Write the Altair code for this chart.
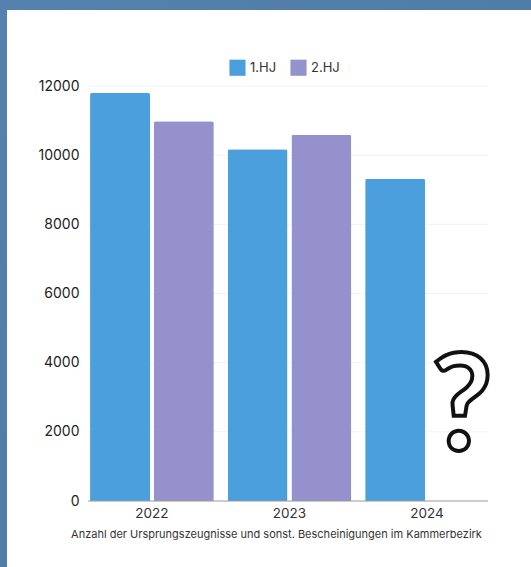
import altair as alt
import pandas as pd

years = ["2022", "2022", "2023", "2023", "2024"]
halves = ["1.HJ", "2.HJ", "1.HJ", "2.HJ", "1.HJ"]
counts = [11800, 10980, 10170, 10590, 9320]
tick_values = [0, 2000, 4000, 6000, 8000, 10000, 12000]
year_order = ["2022", "2023", "2024"]
half_order = ["1.HJ", "2.HJ"]
half_colors = ["#4a9fdc", "#9491cc"]
caption = "Anzahl der Ursprungszeugnisse und sonst. Bescheinigungen im Kammerbezirk"

FONT = "Inter"
PAD_LEFT, PAD_TOP, PLOT_W, PLOT_H = 88, 86, 400, 415

df = pd.DataFrame({"year": years, "half": halves, "count": counts})

y_scale = alt.Scale(domain=[0, 12000], nice=False)
y_axis = alt.Axis(
    title=None, values=tick_values, format="d", labelFont=FONT, labelFontSize=14,
    labelColor="#222222", labelPadding=9, ticks=False, domain=False,
    grid=False, zindex=1,
)

# Blue page backdrop and the white card the chart sits on
backdrop = alt.Chart(pd.DataFrame({"k": [0]})).mark_rect(
    color=alt.LinearGradient(
        gradient="linear", x1=0, y1=0, x2=1, y2=1,
        stops=[alt.GradientStop(offset=0, color="#5481ad"),
               alt.GradientStop(offset=1, color="#4f77a3")],
    )
).encode(
    x=alt.value(-PAD_LEFT), x2=alt.value(531 - PAD_LEFT),
    y=alt.value(-PAD_TOP), y2=alt.value(567 - PAD_TOP),
)
card = alt.Chart(pd.DataFrame({"k": [0]})).mark_rect(color="#ffffff").encode(
    x=alt.value(7 - PAD_LEFT), x2=alt.value(531 - PAD_LEFT),
    y=alt.value(10 - PAD_TOP), y2=alt.value(567 - PAD_TOP),
)

# Faint horizontal guides, kept underneath the bars
grid = alt.Chart(pd.DataFrame({"tick": tick_values[1:]})).mark_rule(
    color="#f2f2f2", strokeWidth=1
).encode(y=alt.Y("tick:Q", scale=y_scale, axis=y_axis))

bars = alt.Chart(df).mark_bar(cornerRadiusTopLeft=2, cornerRadiusTopRight=2).encode(
    x=alt.X(
        "year:N", sort=year_order,
        scale=alt.Scale(domain=year_order, range=[0, PLOT_W + 3],
                        paddingInner=0.1, paddingOuter=0.015),
        axis=alt.Axis(
            title=caption, titleFont=FONT, titleFontSize=11, titleFontWeight="normal",
            titleColor="#333333", titlePadding=9, titleX=188, titleAlign="center",
            labelFont=FONT, labelFontSize=13.5, labelColor="#333333", labelAngle=0,
            labelPadding=5, ticks=False, domain=False, grid=False, zindex=1,
        ),
    ),
    xOffset=alt.XOffset("half:N", sort=half_order,
                        scale=alt.Scale(domain=half_order, paddingInner=0.06, paddingOuter=0)),
    y=alt.Y("count:Q", scale=y_scale, axis=y_axis),
    color=alt.Color(
        "half:N", sort=half_order,
        scale=alt.Scale(domain=half_order, range=half_colors),
        legend=alt.Legend(
            title=None, orient="none", legendX=229 - PAD_LEFT, legendY=59 - PAD_TOP,
            direction="horizontal", symbolType="square", symbolSize=260,
            symbolStrokeWidth=0, labelFont=FONT, labelFontSize=13, labelColor="#333333",
            columnPadding=13, labelOffset=4,
        ),
    ),
)

# Baseline along the value zero
baseline = alt.Chart(pd.DataFrame({"tick": tick_values[:1]})).mark_rule(
    color="#999999", strokeWidth=1
).encode(y=alt.Y("tick:Q", scale=y_scale, axis=y_axis))

# Open question for the second half of 2024
question = alt.Chart(pd.DataFrame({"mark": ["?"]})).mark_text(
    font="Lato", fontSize=134, fontWeight="bold", fill="#ffffff", stroke="#111111",
    strokeWidth=4, align="center", baseline="alphabetic",
).encode(
    text="mark:N",
    x=alt.value(462 - PAD_LEFT),
    y=alt.value(450 - PAD_TOP),
)

chart = alt.layer(backdrop, card, grid, bars, baseline, question).properties(
    width=PLOT_W, height=PLOT_H,
    autosize=alt.AutoSizeParams(type="none"),
    padding={"left": PAD_LEFT, "top": PAD_TOP, "right": 531 - PAD_LEFT - PLOT_W,
             "bottom": 567 - PAD_TOP - PLOT_H},
    background="#5481ad",
).configure_view(stroke=None)

chart.save("out.html", embed_options={"renderer": "svg", "actions": False})
